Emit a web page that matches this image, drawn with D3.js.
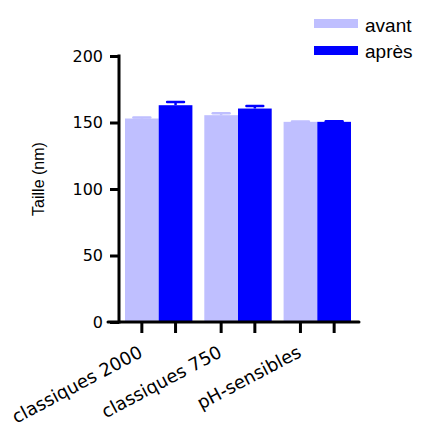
<!DOCTYPE html>
<html>
<head>
<meta charset="utf-8">
<script src="https://cdn.jsdelivr.net/npm/d3@7"></script>
<style>
  html, body { margin: 0; padding: 0; background: #fff; }
  svg { display: block; }
</style>
</head>
<body>
<svg id="chart" width="422" height="430"></svg>
<script>
// Particle size before and after, per formulation
const categories = ["classiques 2000", "classiques 750", "pH-sensibles"];
const seriesNames = ["avant", "après"];
const avant = [153, 155.5, 150.5];
const avantErr = [0.8, 1.5, 0.3];
const apres = [163, 160.5, 150.5];
const apresErr = [2.5, 2, 0.5];
const yTicks = [0, 50, 100, 150, 200];
const colors = ["#bfbfff", "#0000ff"];

const VERD = '"DejaVu Sans"';
const ARIAL = '"Liberation Sans"';

const series = [
  { name: seriesNames[0], values: avant, errs: avantErr, color: colors[0] },
  { name: seriesNames[1], values: apres, errs: apresErr, color: colors[1] }
];

const svg = d3.select("#chart");

const y = d3.scaleLinear().domain([0, 200]).range([322, 56]);
const x0 = d3.scaleBand().domain(categories).range([125, 351])
  .paddingInner(0.15).paddingOuter(0);
const x1 = d3.scaleBand().domain(seriesNames).range([0, x0.bandwidth()]).padding(0);

// Bars
const groups = svg.append("g").selectAll("g")
  .data(categories).join("g")
  .attr("transform", d => `translate(${x0(d)},0)`);

series.forEach(s => {
  groups.append("rect")
    .attr("x", x1(s.name))
    .attr("width", x1.bandwidth())
    .attr("y", (d, i) => y(s.values[i]))
    .attr("height", (d, i) => y(0) - y(s.values[i]))
    .attr("fill", s.color);

  // Upper error bars
  groups.append("line")
    .attr("x1", x1(s.name) + x1.bandwidth() / 2)
    .attr("x2", x1(s.name) + x1.bandwidth() / 2)
    .attr("y1", (d, i) => y(s.values[i]))
    .attr("y2", (d, i) => y(s.values[i] + s.errs[i]))
    .attr("stroke", s.color).attr("stroke-width", 2.5);
  groups.append("line")
    .attr("x1", x1(s.name) + x1.bandwidth() * 0.25)
    .attr("x2", x1(s.name) + x1.bandwidth() * 0.75)
    .attr("y1", (d, i) => y(s.values[i] + s.errs[i]))
    .attr("y2", (d, i) => y(s.values[i] + s.errs[i]))
    .attr("stroke", s.color).attr("stroke-width", 2.5)
    .attr("stroke-linecap", "round");
});

// Y axis
const yAxis = d3.axisLeft(y).tickValues(yTicks).tickSize(9).tickPadding(7);
const gy = svg.append("g").attr("transform", "translate(119,0)").call(yAxis);
gy.select(".domain").remove();
gy.append("line").attr("x1", 0).attr("x2", 0)
  .attr("y1", y(200) - 1.5).attr("y2", y(0) + 1.5)
  .attr("stroke", "#000").attr("stroke-width", 3);
gy.selectAll(".tick line").attr("stroke", "#000").attr("stroke-width", 3);
gy.selectAll(".tick text")
  .attr("fill", "#000")
  .style("font-family", VERD)
  .style("font-size", "16px");

// X axis line and ticks at each bar centre
svg.append("line")
  .attr("x1", 108).attr("x2", 359)
  .attr("y1", y(0)).attr("y2", y(0))
  .attr("stroke", "#000").attr("stroke-width", 3)
  .attr("stroke-linecap", "round");

categories.forEach(c => {
  seriesNames.forEach(sn => {
    const cx = x0(c) + x1(sn) + x1.bandwidth() / 2;
    svg.append("line")
      .attr("x1", cx).attr("x2", cx)
      .attr("y1", y(0)).attr("y2", y(0) + 11)
      .attr("stroke", "#000").attr("stroke-width", 3);
  });
  const lx = x0(c) + x1(seriesNames[0]) + x1.bandwidth() / 2 + 2;
  svg.append("text")
    .attr("transform", `translate(${lx},356) rotate(-28)`)
    .attr("text-anchor", "end")
    .style("font-family", VERD)
    .style("font-size", "18px")
    .text(c);
});

// Y axis title
svg.append("text")
  .attr("transform", "translate(44,179) rotate(-90)")
  .attr("text-anchor", "middle")
  .style("font-family", ARIAL)
  .style("font-size", "16px")
  .text("Taille (nm)");

// Legend
const legend = svg.append("g");
series.forEach((s, i) => {
  legend.append("rect")
    .attr("x", 314).attr("y", 19 + i * 27)
    .attr("width", 44).attr("height", 9)
    .attr("fill", s.color);
  legend.append("text")
    .attr("x", 365).attr("y", 31.5 + i * 26.5)
    .style("font-family", ARIAL)
    .style("font-size", "19px")
    .text(s.name);
});
</script>
</body>
</html>
